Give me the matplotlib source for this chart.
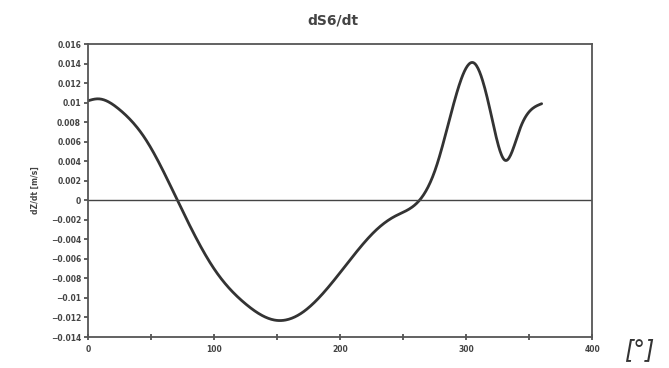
import numpy as np
import matplotlib
matplotlib.use("Agg")
import matplotlib.pyplot as plt

# data
angle = [0, 8, 25, 45, 71, 100, 125, 150, 170, 208, 229, 244,
         256, 263, 276, 290, 307, 319, 331, 343, 360]
dzdt = [0.0102, 0.0104, 0.0093, 0.0064, 0.0, -0.0070, -0.0106, -0.0123, -0.0115,
        -0.0061, -0.0030, -0.0016, -0.0008, 0.0, 0.0033, 0.0098, 0.0140, 0.0093,
        0.0041, 0.0074, 0.0099]
yticks = [0.016, 0.014, 0.012, 0.01, 0.008, 0.006, 0.004, 0.002, 0,
          -0.002, -0.004, -0.006, -0.008, -0.01, -0.012, -0.014]
ytick_labels = ['0.016', '0.014', '0.012', '0.01', '0.008', '0.006', '0.004', '0.002', '0',
                '\u22120.002', '\u22120.004', '\u22120.006', '\u22120.008', '\u22120.01',
                '\u22120.012', '\u22120.014']
xticks = [0, 50, 100, 150, 200, 250, 300, 350, 400]
xtick_labels = ['0', '', '100', '', '200', '', '300', '', '400']


def natural_spline(x, y, n=600):
    x = np.asarray(x, float); y = np.asarray(y, float)
    k = len(x)
    h = np.diff(x)
    A = np.zeros((k, k)); r = np.zeros(k)
    A[0, 0] = A[-1, -1] = 1
    for i in range(1, k - 1):
        A[i, i - 1] = h[i - 1]
        A[i, i] = 2 * (h[i - 1] + h[i])
        A[i, i + 1] = h[i]
        r[i] = 6 * ((y[i + 1] - y[i]) / h[i] - (y[i] - y[i - 1]) / h[i - 1])
    M = np.linalg.solve(A, r)
    xs = np.linspace(x[0], x[-1], n)
    idx = np.clip(np.searchsorted(x, xs) - 1, 0, k - 2)
    x0, x1 = x[idx], x[idx + 1]
    hh = x1 - x0
    a = (x1 - xs) / hh; b = (xs - x0) / hh
    ys = (a * y[idx] + b * y[idx + 1]
          + ((a ** 3 - a) * M[idx] + (b ** 3 - b) * M[idx + 1]) * hh ** 2 / 6)
    return xs, ys


fig = plt.figure(figsize=(6.69, 3.68), dpi=100)
ax = fig.add_axes([0.1315, 0.0842, 0.7535, 0.7958])

sx, sy = natural_spline(angle, dzdt)
ax.plot(sx, sy, color='#333333', lw=2.0, solid_capstyle='round')
ax.axhline(0, color='#444444', lw=1.0)

ax.set_xlim(0, 400)
ax.set_ylim(-0.014, 0.016)
ax.set_yticks(yticks)
ax.set_yticklabels(ytick_labels, fontsize=5.5, fontweight='bold', color='#444444')
ax.set_xticks(xticks)
ax.set_xticklabels(xtick_labels, fontsize=5.5, fontweight='bold', color='#444444')
ax.tick_params(axis='y', direction='out', length=3, width=1.2, color='#444444', pad=2)
ax.tick_params(axis='x', direction='inout', length=5, width=1.2, color='#444444', pad=3)
for s in ax.spines.values():
    s.set_color('#555555')
    s.set_linewidth(1.3)

ax.set_ylabel('dZ/dt [m/s]', fontsize=5.5, fontweight='bold', color='#444444', labelpad=8)
fig.text(0.497, 0.945, 'dS6/dt', ha='center', va='center', fontsize=10,
         fontweight='bold', color='#444444')
fig.text(0.955, 0.05, '[\u00b0]', ha='center', va='center', fontsize=17,
         style='italic', color='#333333')

fig.savefig('out.png', dpi=100)
